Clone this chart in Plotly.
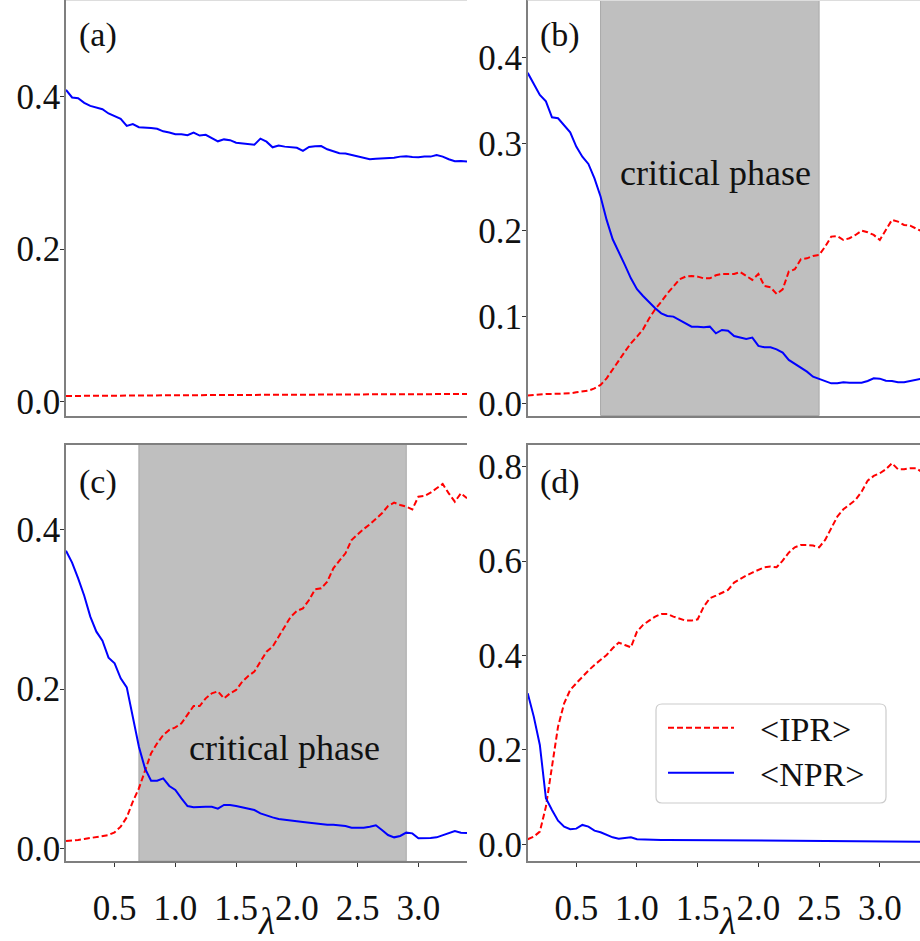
import re
import plotly.graph_objects as go

# lambda grid
lam = [0.10, 0.15, 0.20, 0.25, 0.30, 0.35, 0.40, 0.45, 0.50, 0.55,
       0.60, 0.65, 0.70, 0.75, 0.80, 0.85, 0.90, 0.95, 1.00, 1.05,
       1.10, 1.15, 1.20, 1.25, 1.30, 1.35, 1.40, 1.45, 1.50, 1.55,
       1.60, 1.65, 1.70, 1.75, 1.80, 1.85, 1.90, 1.95, 2.00, 2.05,
       2.10, 2.15, 2.20, 2.25, 2.30, 2.35, 2.40, 2.45, 2.50, 2.55,
       2.60, 2.65, 2.70, 2.75, 2.80, 2.85, 2.90, 2.95, 3.00, 3.05,
       3.10, 3.15, 3.20, 3.25, 3.30, 3.35, 3.40]

npr_a = [0.409, 0.399, 0.398, 0.392, 0.388, 0.386, 0.3835, 0.378, 0.374, 0.371,
         0.3616, 0.364, 0.360, 0.3597, 0.359, 0.358, 0.3546, 0.353, 0.3507, 0.3507,
         0.3494, 0.353, 0.349, 0.350, 0.3458, 0.3415, 0.344, 0.343, 0.3397, 0.339,
         0.338, 0.337, 0.345, 0.341, 0.3336, 0.336, 0.3345, 0.334, 0.333, 0.329,
         0.334, 0.335, 0.3353, 0.331, 0.3288, 0.3258, 0.3254, 0.3235, 0.3214, 0.3196,
         0.318, 0.3187, 0.319, 0.319, 0.32, 0.3214, 0.322, 0.321, 0.3206, 0.3214,
         0.3214, 0.3235, 0.3214, 0.318, 0.3153, 0.3157, 0.315]
ipr_a = [0.0075, 0.0076, 0.0076, 0.0077, 0.0077, 0.0078, 0.0078, 0.0079, 0.0079, 0.0080,
         0.0080, 0.0081, 0.0081, 0.0082, 0.0082, 0.0083, 0.0083, 0.0084, 0.0084, 0.0085,
         0.0085, 0.0086, 0.0086, 0.0087, 0.0087, 0.0088, 0.0088, 0.0088, 0.0089, 0.0089,
         0.0089, 0.0090, 0.0090, 0.0090, 0.0091, 0.0091, 0.0091, 0.0092, 0.0092, 0.0092,
         0.0093, 0.0093, 0.0093, 0.0094, 0.0094, 0.0094, 0.0095, 0.0095, 0.0095, 0.0096,
         0.0096, 0.0096, 0.0097, 0.0097, 0.0097, 0.0098, 0.0098, 0.0098, 0.0099, 0.0099,
         0.0099, 0.0100, 0.0100, 0.0100, 0.0101, 0.0101, 0.0101]

npr_b = [0.382, 0.370, 0.3565, 0.349, 0.3306, 0.3295, 0.3218, 0.3133, 0.2967, 0.285,
         0.2767, 0.260, 0.239, 0.212, 0.1896, 0.1753, 0.160, 0.1445, 0.1318, 0.124,
         0.1164, 0.1098, 0.104, 0.101, 0.1002, 0.0963, 0.0925, 0.0886, 0.0886, 0.0879,
         0.0886, 0.0809, 0.0848, 0.084, 0.0778, 0.0759, 0.0744, 0.0759, 0.0663, 0.0647,
         0.0647, 0.0624, 0.0586, 0.0501, 0.0455, 0.0405, 0.0366, 0.0308, 0.0281, 0.0262,
         0.0231, 0.0231, 0.0243, 0.0239, 0.0239, 0.0239, 0.0258, 0.0289, 0.0285, 0.0262,
         0.0258, 0.0243, 0.0243, 0.0258, 0.0277, 0.029, 0.030]
ipr_b = [0.0089, 0.0096, 0.0104, 0.0108, 0.0108, 0.0108, 0.0112, 0.0116, 0.0127, 0.0135,
         0.0146, 0.0173, 0.0212, 0.0289, 0.0385, 0.0493, 0.0597, 0.0694, 0.077, 0.0855,
         0.098, 0.1087, 0.1175, 0.127, 0.1349, 0.1433, 0.1464, 0.1472, 0.1464, 0.1445,
         0.1445, 0.148, 0.1495, 0.1495, 0.1495, 0.1518, 0.1472, 0.1426, 0.1495, 0.1356,
         0.1341, 0.1264, 0.1318, 0.1522, 0.1549, 0.1665, 0.1676, 0.1703, 0.1715, 0.1811,
         0.1927, 0.1934, 0.1888, 0.1908, 0.1946, 0.1996, 0.1977, 0.1946, 0.1888, 0.2012,
         0.212, 0.21, 0.2062, 0.2054, 0.2023, 0.199, 0.195]

npr_c = [0.3737, 0.3587, 0.339, 0.3172, 0.2909, 0.272, 0.2607, 0.2394, 0.2323, 0.2134,
         0.2021, 0.1653, 0.1276, 0.1004, 0.085, 0.085, 0.0879, 0.0783, 0.0732, 0.0628,
         0.0531, 0.0515, 0.0523, 0.0523, 0.0523, 0.0498, 0.0544, 0.0544, 0.0531, 0.0515,
         0.0502, 0.0481, 0.0439, 0.041, 0.0389, 0.0368, 0.0356, 0.0347, 0.0339, 0.0331,
         0.0322, 0.031, 0.0301, 0.0297, 0.0297, 0.0293, 0.028, 0.0259, 0.0255, 0.0259,
         0.0272, 0.0289, 0.023, 0.0167, 0.0138, 0.0155, 0.0197, 0.0188, 0.0126, 0.0126,
         0.013, 0.0138, 0.0167, 0.0197, 0.0218, 0.0197, 0.0193]
ipr_c = [0.0092, 0.0096, 0.0105, 0.0117, 0.013, 0.0138, 0.0151, 0.0167, 0.0201, 0.0272,
         0.0389, 0.0586, 0.0753, 0.0963, 0.1193, 0.1318, 0.1423, 0.1486, 0.1519, 0.1569,
         0.1674, 0.1787, 0.1787, 0.1883, 0.1946, 0.1971, 0.1883, 0.1946, 0.1988, 0.2092,
         0.2164, 0.2218, 0.2344, 0.2469, 0.2532, 0.2666, 0.2783, 0.2909, 0.298, 0.3013,
         0.3118, 0.3252, 0.3264, 0.3348, 0.3515, 0.3612, 0.3704, 0.3871, 0.3946, 0.4009,
         0.4068, 0.4143, 0.4206, 0.4298, 0.434, 0.4311, 0.429, 0.4256, 0.4415, 0.4424,
         0.4465, 0.452, 0.4574, 0.4457, 0.4352, 0.4457, 0.4394]

npr_d = [0.3199, 0.2705, 0.2105, 0.0975, 0.0727, 0.0501, 0.0374, 0.0318, 0.0332, 0.041,
         0.0374, 0.029, 0.0254, 0.0198, 0.0148, 0.012, 0.0127, 0.0148, 0.0106, 0.0099,
         0.0097, 0.0095, 0.0093, 0.0092, 0.0091, 0.0090, 0.0089, 0.0089, 0.0088, 0.0085,
         0.0080, 0.0078, 0.0078, 0.0077, 0.0074, 0.0072, 0.0071, 0.0070, 0.0069, 0.0068,
         0.0068, 0.0067, 0.0067, 0.0066, 0.0066, 0.0065, 0.0065, 0.0065, 0.0064, 0.0064,
         0.0063, 0.0063, 0.0062, 0.0062, 0.0061, 0.0061, 0.0060, 0.0060, 0.0059, 0.0059,
         0.0058, 0.0058, 0.0057, 0.0057, 0.0056, 0.0056, 0.0055]
ipr_d = [0.0106, 0.0162, 0.0268, 0.0798, 0.1645, 0.2493, 0.2987, 0.327, 0.3411, 0.3552,
         0.368, 0.38, 0.3905, 0.4011, 0.4153, 0.4273, 0.4223, 0.4174, 0.4506, 0.4647,
         0.4739, 0.4824, 0.488, 0.488, 0.4824, 0.4774, 0.4739, 0.4739, 0.4767, 0.5035,
         0.5212, 0.5268, 0.5332, 0.5388, 0.5544, 0.5621, 0.5692, 0.5756, 0.5812, 0.5869,
         0.5883, 0.5869, 0.601, 0.6179, 0.6292, 0.6342, 0.6342, 0.6328, 0.6292, 0.6448,
         0.6695, 0.6942, 0.7097, 0.7189, 0.7295, 0.7472, 0.7705, 0.7804, 0.786, 0.7945,
         0.8072, 0.7945, 0.7945, 0.7966, 0.7966, 0.788, 0.78]

panel_labels = ["(a)", "(b)", "(c)", "(d)"]
legend_names = ["&lt;IPR&gt;", "&lt;NPR&gt;"]
critical_b = [0.7, 2.5]
critical_c = [0.7, 2.9]
xtick_vals = [0.5, 1.0, 1.5, 2.0, 2.5, 3.0]
xtick_text = ["0.5", "1.0", "1.5", "2.0", "2.5", "3.0"]

FONT = "Liberation Serif"
FRAME = "#7f7f7f"
TXT = "#111111"
W, H = 920, 941
RED = "#ff0000"
BLUE = "#0000ff"
DASH = "6px,3px"

fig = go.Figure()
series = [(npr_a, ipr_a), (npr_b, ipr_b), (npr_c, ipr_c), (npr_d, ipr_d)]
for i, (npr, ipr) in enumerate(series):
    sfx = "" if i == 0 else str(i + 1)
    fig.add_trace(go.Scatter(x=lam, y=ipr, mode="lines", name=legend_names[0],
                             line=dict(color=RED, width=2, dash=DASH),
                             xaxis="x" + sfx, yaxis="y" + sfx, showlegend=False))
    fig.add_trace(go.Scatter(x=lam, y=npr, mode="lines", name=legend_names[1],
                             line=dict(color=BLUE, width=2),
                             xaxis="x" + sfx, yaxis="y" + sfx, showlegend=False))

xl = [66 / W, 467 / W]
xr = [527.7 / W, 1.0]
yt = [1 - 415.5 / H, 1.0]
yb = [1 - 861 / H, 1 - 444.5 / H]

tickfont = dict(family=FONT, size=35, color=TXT)


def xax(domain, anchor, rng, show_labels):
    d = dict(domain=domain, anchor=anchor, range=rng, showgrid=False, zeroline=False,
             showline=True, linecolor=FRAME, linewidth=1.5, mirror=True,
             tickfont=tickfont, fixedrange=True, automargin=False)
    if show_labels:
        d.update(tickmode="array", tickvals=xtick_vals, ticktext=xtick_text,
                 ticks="outside", ticklen=4, tickcolor="#333", ticklabelstandoff=11)
    else:
        d.update(showticklabels=False, ticks="")
    return d


def yax(domain, anchor, rng, tv, tt):
    return dict(domain=domain, anchor=anchor, range=rng, showgrid=False, zeroline=False,
                showline=True, linecolor=FRAME, linewidth=1.5, mirror=False,
                tickmode="array", tickvals=tv, ticktext=tt, ticks="outside", ticklen=4,
                tickcolor="#333", tickfont=tickfont, ticklabelstandoff=-7,
                fixedrange=True, automargin=False)


fig.update_layout(
    width=W, height=H, margin=dict(l=0, r=0, t=0, b=0, autoexpand=False),
    paper_bgcolor="white", plot_bgcolor="white", showlegend=False,
    xaxis=xax(xl, "y", [0.1, 3.4], False),
    yaxis=yax(yt, "x", [-0.0181, 0.5268], [0, 0.2, 0.4], ["0.0", "0.2", "0.4"]),
    xaxis2=xax(xr, "y2", [0.1, 3.331], False),
    yaxis2=yax(yt, "x2", [-0.0141, 0.4662], [0, 0.1, 0.2, 0.3, 0.4],
               ["0.0", "0.1", "0.2", "0.3", "0.4"]),
    xaxis3=xax(xl, "y3", [0.1, 3.4], True),
    yaxis3=yax(yb, "x3", [-0.0159, 0.507], [0, 0.2, 0.4], ["0.0", "0.2", "0.4"]),
    xaxis4=xax(xr, "y4", [0.1, 3.331], True),
    yaxis4=yax(yb, "x4", [-0.0354, 0.847], [0, 0.2, 0.4, 0.6, 0.8],
               ["0.0", "0.2", "0.4", "0.6", "0.8"]),
)

# critical-phase shading
for (x0, x1), xr_, yr_ in [(critical_b, "x2", "y2 domain"), (critical_c, "x3", "y3 domain")]:
    fig.add_shape(type="rect", xref=xr_, yref=yr_, x0=x0, x1=x1, y0=0, y1=1,
                  fillcolor="#bfbfbf", line=dict(color="#a8a8a8", width=1), layer="below")

fig.add_annotation(x=1.647, y=0.266, xref="x2", yref="y2", text="critical phase",
                   showarrow=False, font=dict(family=FONT, size=36, color=TXT))
fig.add_annotation(x=1.896, y=0.126, xref="x3", yref="y3", text="critical phase",
                   showarrow=False, font=dict(family=FONT, size=36, color=TXT))

# faint top frame line of the (cropped) upper panels
fig.add_shape(type="line", xref="paper", yref="paper", x0=66 / W, x1=467 / W,
              y0=1 - 0.5 / H, y1=1 - 0.5 / H, line=dict(color="#dddddd", width=1))
fig.add_shape(type="line", xref="paper", yref="paper", x0=527.7 / W, x1=1,
              y0=1 - 0.5 / H, y1=1 - 0.5 / H, line=dict(color="#dddddd", width=1))

# panel labels
label_pos = [(77, 35), (538, 35), (77, 482), (538, 482)]
for lab, (px, py) in zip(panel_labels, label_pos):
    fig.add_annotation(x=px / W, y=1 - py / H, xref="paper", yref="paper", text=lab,
                       showarrow=False, xanchor="left", yanchor="middle",
                       font=dict(family=FONT, size=34, color=TXT))

# x-axis titles
for cx in [(66 + 467) / 2, (527.7 + 928) / 2]:
    fig.add_annotation(x=cx / W, y=1 - 921 / H, xref="paper", yref="paper",
                       text="<i>λ</i>", showarrow=False, xanchor="center", yanchor="middle",
                       font=dict(family=FONT, size=37, color=TXT))


def px2(x, y):
    return x / W, 1 - y / H


# legend box in panel (d) (rounded rectangle)
bx0, bx1, by0, by1, r = 656, 886, 704, 803, 6
path = (f"M {bx0 + r},{by0} L {bx1 - r},{by0} Q {bx1},{by0} {bx1},{by0 + r} "
        f"L {bx1},{by1 - r} Q {bx1},{by1} {bx1 - r},{by1} L {bx0 + r},{by1} "
        f"Q {bx0},{by1} {bx0},{by1 - r} L {bx0},{by0 + r} Q {bx0},{by0} {bx0 + r},{by0} Z")
ppath = path
for pair in re.findall(r"[-\d.]+,[-\d.]+", path):
    x, y = map(float, pair.split(","))
    X, Y = px2(x, y)
    ppath = ppath.replace(pair, f"{X:.5f},{Y:.5f}", 1)
fig.add_shape(type="path", xref="paper", yref="paper", path=ppath,
              fillcolor="rgba(255,255,255,0.85)", line=dict(color="#cccccc", width=1.2),
              layer="above")

legend_rows = [(727.7, RED, DASH), (772.7, BLUE, "solid")]
for (ly, col, dash), name in zip(legend_rows, legend_names):
    X0, Y = px2(668, ly)
    X1, _ = px2(734, ly)
    fig.add_shape(type="line", xref="paper", yref="paper", x0=X0, x1=X1, y0=Y, y1=Y,
                  line=dict(color=col, width=2, dash=dash), layer="above")
    tx, ty = px2(758, ly + 1.5)
    fig.add_annotation(x=tx, y=ty, xref="paper", yref="paper", text=name, showarrow=False,
                       xanchor="left", yanchor="middle",
                       font=dict(family=FONT, size=34, color=TXT))

fig.write_html("out.html", config={"displayModeBar": False},
               post_script="document.body.style.margin='0';document.body.style.padding='0';")
